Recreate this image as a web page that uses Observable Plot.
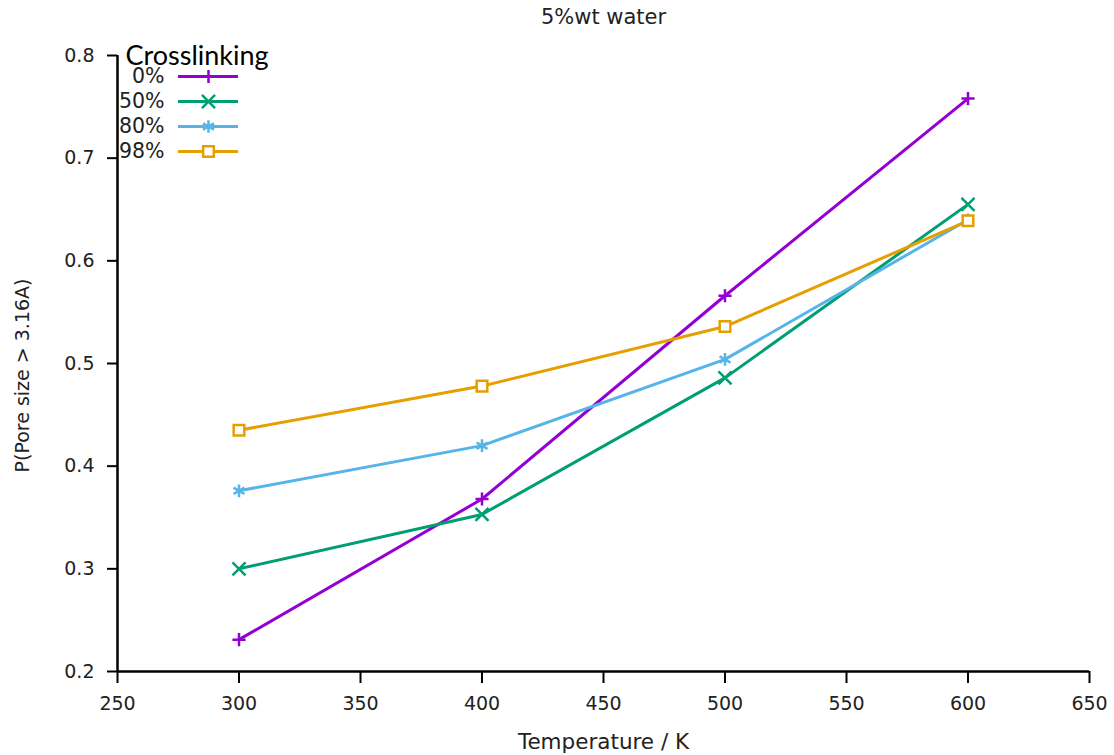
<!DOCTYPE html>
<html>
<head>
<meta charset="utf-8">
<script src="https://cdn.jsdelivr.net/npm/d3@7"></script>
<script src="https://cdn.jsdelivr.net/npm/@observablehq/plot@0.6"></script>
<style>
  html, body { margin: 0; padding: 0; background: #fff; }
  #wrap { position: relative; width: 1114px; height: 755px; }
  #legend { position: absolute; left: 100px; top: 30px; }
</style>
</head>
<body>
<div id="wrap"><div id="chart"></div><div id="legend"></div></div>
<script>
const title = "5%wt water";
const xLabel = "Temperature / K";
const yLabel = "P(Pore size > 3.16A)";
const legendTitle = "Crosslinking";

const temperatures = [300, 400, 500, 600];
const series = ["0%", "50%", "80%", "98%"];
const values0 = [0.231, 0.368, 0.566, 0.758];
const values50 = [0.300, 0.353, 0.486, 0.655];
const values80 = [0.376, 0.420, 0.504, 0.640];
const values98 = [0.435, 0.478, 0.536, 0.639];
const seriesValues = [values0, values50, values80, values98];

const xTicks = [250, 300, 350, 400, 450, 500, 550, 600, 650];
const yTicks = [0.2, 0.3, 0.4, 0.5, 0.6, 0.7, 0.8];

const colors = ["#9400d3", "#009e73", "#56b4e9", "#e69f00"];
const symbols = ["plus", "times", "asterisk", "square"];
const symbolR = [4.3, 6.0, 6.0, 6.0];

const data = series.flatMap((s, i) =>
  temperatures.map((t, j) => ({series: s, temperature: t, value: seriesValues[i][j]})));

const font = "DejaVu Sans";

const marks = [
  Plot.axisX({ticks: xTicks, tickSize: 12, tickPadding: 13, strokeWidth: 2, fontSize: 19, label: null, tickFormat: d => String(d), fill: "#222"}),
  Plot.axisY({ticks: yTicks, tickSize: 10, tickPadding: 13, strokeWidth: 2, fontSize: 19, label: null, tickFormat: d3.format(".1f"), fill: "#222"}),
  Plot.ruleX([250], {strokeWidth: 2.5}),
  Plot.ruleY([0.2], {strokeWidth: 2.5}),
];
series.forEach((s, i) => {
  const d = data.filter(r => r.series === s);
  marks.push(Plot.line(d, {x: "temperature", y: "value", stroke: colors[i], strokeWidth: 3}));
  marks.push(Plot.dot(d, {x: "temperature", y: "value", stroke: colors[i], symbol: symbols[i], r: symbolR[i], strokeWidth: 2.5, fill: symbols[i] === "square" ? "white" : "none"}));
});
marks.push(Plot.text([title], {frameAnchor: "top", dy: -38, lineAnchor: "middle", textAnchor: "middle", fontSize: 21, fill: "#222", fontFamily: font}));
marks.push(Plot.text([xLabel], {frameAnchor: "bottom", dy: 71, lineAnchor: "middle", textAnchor: "middle", fontSize: 21.5, fill: "#222", fontFamily: font}));
marks.push(Plot.text([yLabel], {frameAnchor: "left", rotate: -90, dx: -95, dy: 12, lineAnchor: "middle", textAnchor: "middle", fontSize: 19, fill: "#222", fontFamily: font}));

const chart = Plot.plot({
  width: 1114,
  height: 755,
  marginLeft: 117,
  marginRight: 25,
  marginTop: 55,
  marginBottom: 84,
  style: {fontFamily: font, fontSize: "19px", background: "white", color: "black"},
  x: {domain: [250, 650]},
  y: {domain: [0.2, 0.8]},
  marks
});
document.getElementById("chart").appendChild(chart);

const legend = Plot.plot({
  width: 200,
  height: 140,
  margin: 0,
  style: {fontFamily: font, fontSize: "19px", background: "transparent", overflow: "visible"},
  x: {domain: [0, 1], range: [78, 138], axis: null},
  y: {type: "point", domain: series, range: [45, 121], padding: 0, axis: null},
  color: {domain: series, range: colors},
  symbol: {domain: series, range: symbols},
  marks: [
    Plot.text([legendTitle], {frameAnchor: "top-left", dx: 25, dy: 26, textAnchor: "start", lineAnchor: "middle", fontSize: 27, fontFamily: "Lato", fill: "black"}),
    Plot.text(series, {x: () => 0, y: d => d, text: d => d, textAnchor: "end", dx: -14, fontSize: 20.5, fill: "#222"}),
    Plot.ruleY(series, {y: d => d, x1: () => 0, x2: () => 1, stroke: d => d, strokeWidth: 3}),
    ...series.map((s, i) => Plot.dot([s], {x: () => 0.5, y: d => d, stroke: colors[i], symbol: symbols[i], r: symbolR[i], strokeWidth: 2.5, fill: symbols[i] === "square" ? "white" : "none"}))
  ]
});
document.getElementById("legend").appendChild(legend);
</script>
</body>
</html>
